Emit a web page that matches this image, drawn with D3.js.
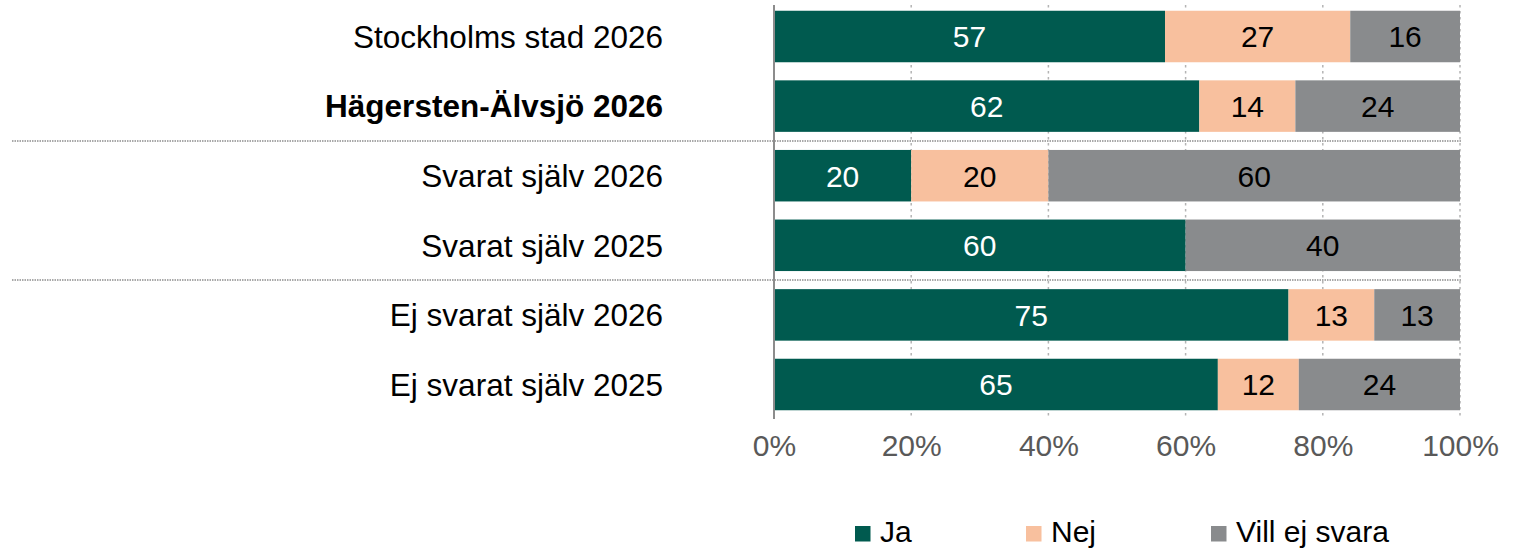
<!DOCTYPE html>
<html>
<head>
<meta charset="utf-8">
<script src="https://cdn.jsdelivr.net/npm/d3@7"></script>
<style>
  html, body { margin: 0; padding: 0; background: #ffffff; }
  svg { display: block; font-family: Arial, "Liberation Sans", sans-serif; }
</style>
</head>
<body>
<svg id="chart" width="1516" height="551"></svg>
<script>
// Survey groups, top to bottom
const categories = [
  "Stockholms stad 2026",
  "Hägersten-Älvsjö 2026",
  "Svarat själv 2026",
  "Svarat själv 2025",
  "Ej svarat själv 2026",
  "Ej svarat själv 2025"
];
const boldCategories = ["Hägersten-Älvsjö 2026"];

// Answer shares (%) per group
const seriesNames = ["Ja", "Nej", "Vill ej svara"];
const jaValues   = [57, 62, 20, 60, 75, 64.7];
const nejValues  = [27, 14, 20, 0, 12.5, 11.8];
const villValues = [16, 24, 60, 40, 12.5, 23.5];
const seriesColors = ["#005a4f", "#f8c09e", "#898b8d"];
const labelColors  = ["#ffffff", "#000000", "#000000"];

// Axis ticks and group separators
const tickValues = [0, 20, 40, 60, 80, 100];
const separatorsAfter = ["Hägersten-Älvsjö 2026", "Svarat själv 2025"];

const svg = d3.select("#chart");

const x = d3.scaleLinear().domain([0, 100]).range([774, 1460]);
const y = d3.scaleBand()
  .domain(categories)
  .range([1.7, 419.3])
  .paddingInner(0.26)
  .paddingOuter(0.13);

const plotTop = 5, plotBottom = 419;

// Stack the three series
const rows = categories.map((c, i) => ({
  category: c,
  "Ja": jaValues[i],
  "Nej": nejValues[i],
  "Vill ej svara": villValues[i]
}));
const stacked = d3.stack().keys(seriesNames)(rows);

// Dotted vertical gridlines
svg.append("g")
  .selectAll("line")
  .data(tickValues.filter(t => t > 0))
  .join("line")
  .attr("x1", d => x(d)).attr("x2", d => x(d))
  .attr("y1", plotTop).attr("y2", plotBottom)
  .attr("stroke", "#b4b4b4")
  .attr("stroke-width", 1.5)
  .attr("stroke-dasharray", "2.5,3.5");

// Horizontal group separators
svg.append("g")
  .selectAll("line")
  .data(separatorsAfter)
  .join("line")
  .attr("x1", 12).attr("x2", 1462)
  .attr("y1", d => y(d) + y.bandwidth() + (y.step() - y.bandwidth()) / 2)
  .attr("y2", d => y(d) + y.bandwidth() + (y.step() - y.bandwidth()) / 2)
  .attr("stroke", "#a9a9a9")
  .attr("stroke-width", 2)
  .attr("stroke-dasharray", "1.5,1");

// Bars
const layers = svg.append("g")
  .selectAll("g")
  .data(stacked)
  .join("g")
  .attr("fill", (d, i) => seriesColors[i]);

layers.selectAll("rect")
  .data(d => d.filter(s => s[1] - s[0] > 0))
  .join("rect")
  .attr("x", d => x(d[0]))
  .attr("y", d => y(d.data.category))
  .attr("width", d => x(d[1]) - x(d[0]))
  .attr("height", y.bandwidth());

// Value labels
stacked.forEach((layer, i) => {
  svg.append("g")
    .selectAll("text")
    .data(layer.filter(s => s[1] - s[0] > 0))
    .join("text")
    .attr("x", d => (x(d[0]) + x(d[1])) / 2)
    .attr("y", d => y(d.data.category) + y.bandwidth() / 2)
    .attr("dy", "0.36em")
    .attr("text-anchor", "middle")
    .attr("font-size", 30)
    .attr("fill", labelColors[i])
    .text(d => d3.format(".0f")(d[1] - d[0]));
});

// Vertical axis line
svg.append("line")
  .attr("x1", x(0)).attr("x2", x(0))
  .attr("y1", plotTop).attr("y2", plotBottom)
  .attr("stroke", "#8c8c8c")
  .attr("stroke-width", 2);

// Category labels
svg.append("g")
  .selectAll("text")
  .data(categories)
  .join("text")
  .attr("x", 663)
  .attr("y", d => y(d) + y.bandwidth() / 2)
  .attr("dy", "0.36em")
  .attr("text-anchor", "end")
  .attr("font-size", 31.5)
  .attr("font-weight", d => boldCategories.includes(d) ? "bold" : "normal")
  .attr("fill", "#000000")
  .text(d => d);

// Bottom axis tick labels
const xAxis = d3.axisBottom(x)
  .tickValues(tickValues)
  .tickSize(0)
  .tickPadding(0)
  .tickFormat(d => d + "%");
const axisG = svg.append("g")
  .attr("transform", "translate(0,435)")
  .call(xAxis);
axisG.select(".domain").remove();
axisG.selectAll("text")
  .attr("font-size", 30)
  .attr("font-family", "Arial, 'Liberation Sans', sans-serif")
  .attr("fill", "#595959")
  .attr("dy", "0.71em");

// Legend
const legendX = [855, 1026, 1211];
const legend = svg.append("g")
  .selectAll("g")
  .data(seriesNames)
  .join("g")
  .attr("transform", (d, i) => `translate(${legendX[i]},0)`);
legend.append("rect")
  .attr("x", 0).attr("y", 526)
  .attr("width", 15.5).attr("height", 15.5)
  .attr("fill", (d, i) => seriesColors[i]);
legend.append("text")
  .attr("x", 25).attr("y", 542)
  .attr("font-size", 30)
  .attr("fill", "#000000")
  .text(d => d);
</script>
</body>
</html>
